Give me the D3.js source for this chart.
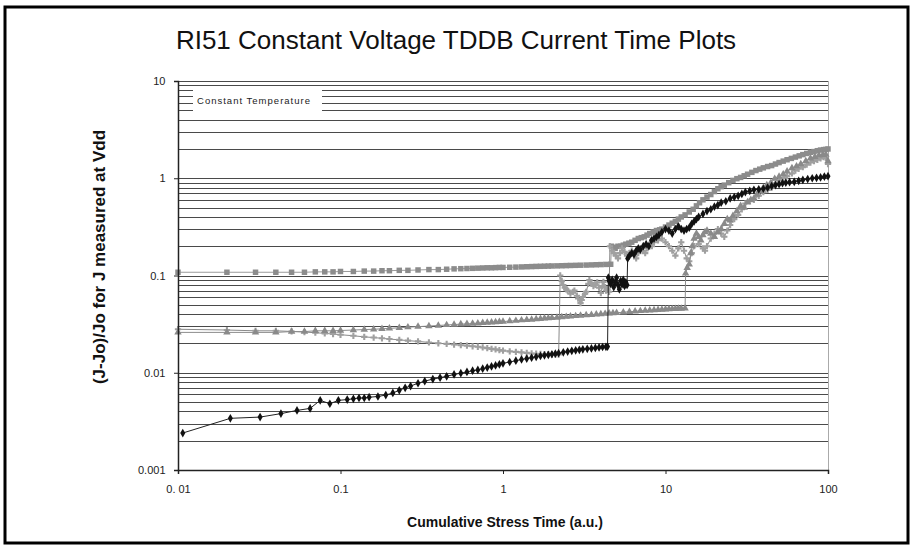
<!DOCTYPE html>
<html>
<head>
<meta charset="utf-8">
<script src="https://cdn.jsdelivr.net/npm/d3@7"></script>
<style>
  body { margin: 0; background: #fff; }
  text { font-family: Arial, "Liberation Sans", sans-serif; }
</style>
</head>
<body>
<script>
// tick labels
const xTicks = [0.01, 0.1, 1, 10, 100];
const xTickLabels = ["0. 01", "0.1", "1", "10", "100"];
const yTicks = [0.001, 0.01, 0.1, 1, 10];
const yTickLabels = ["0.001", "0.01", "0.1", "1", "10"];

// series, [time, (J-Jo)/Jo]
// black diamonds
const seriesA = [[0.0107,0.0024],[0.021,0.0034],[0.032,0.0035],[0.043,0.0038],[0.054,0.0041],[0.065,0.0043],[0.075,0.0052],[0.086,0.0048],[0.097,0.0052],[0.11,0.0053],[0.12,0.0054],[0.13,0.0055],[0.14,0.0055],[0.15,0.0056],[0.17,0.0057],[0.19,0.0059],[0.21,0.0062],[0.23,0.0066],[0.25,0.007],[0.27,0.0073],[0.3,0.0078],[0.33,0.0082],[0.37,0.0086],[0.41,0.0089],[0.45,0.0092],
  [0.5,0.0096],[0.55,0.0099],[0.6,0.0102],[0.65,0.0105],[0.7,0.0107],[0.75,0.011],[0.8,0.0113],[0.85,0.0116],[0.9,0.0119],[0.95,0.0122],[1.0,0.0125],[1.1,0.0129],[1.2,0.0133],[1.3,0.0137],[1.4,0.014],[1.5,0.0143],[1.6,0.0146],[1.7,0.0149],[1.8,0.0151],[1.9,0.0153],[2.0,0.0155],[2.1,0.0157],[2.2,0.0159],[2.35,0.0162],[2.5,0.0165],[2.65,0.0168],[2.8,0.017],[2.95,0.0172],[3.1,0.0174],[3.3,0.0176],[3.5,0.0178],[3.7,0.018],[3.9,0.0182],[4.1,0.0184],[4.3,0.0185],[4.4,0.0186],
  [4.45,0.095],[4.5,0.088],[4.6,0.082],[4.7,0.09],[4.8,0.076],[4.9,0.085],[5.0,0.095],[5.1,0.08],[5.2,0.072],[5.3,0.088],[5.4,0.081],[5.5,0.09],[5.6,0.078],[5.7,0.085],[5.8,0.08],[5.85,0.15],[6.0,0.16],[6.2,0.17],[6.4,0.165],[6.6,0.18],[6.8,0.19],[7.0,0.185],[7.3,0.2],[7.6,0.21],[7.9,0.2],[8.2,0.23],[8.5,0.24],[8.8,0.25],[9.1,0.26],[9.5,0.28],[10,0.3],[10.5,0.29],[11,0.27],[11.5,0.3],[12,0.32],[12.5,0.3],[13,0.29],[13.5,0.3],[14,0.31],[14.5,0.34],[15,0.36],[15.5,0.38],[16,0.4],[17,0.43],[18,0.46],[19,0.48],[20,0.51],[21,0.53],[22,0.56],[23.5,0.58],[25,0.62],[26.5,0.64],[28,0.66],[29.5,0.69],[31,0.72],[33,0.74],[35,0.76],[37.5,0.77],[40,0.78],[42.5,0.8],[45,0.83],[47.5,0.85],[50,0.87],[52.5,0.89],[55,0.9],[58,0.91],[62,0.92],[66,0.94],[70,0.96],[75,0.98],[80,1.0],[85,1.01],[90,1.02],[95,1.04],[100,1.05]];

// gray triangles
const seriesB = [[0.01,0.026],[0.02,0.026],[0.03,0.026],[0.04,0.026],[0.05,0.0265],[0.06,0.0265],[0.07,0.027],[0.08,0.027],[0.09,0.027],[0.1,0.0272],[0.12,0.0275],[0.14,0.0278],[0.16,0.028],[0.18,0.0283],[0.2,0.0286],[0.23,0.029],[0.26,0.0294],[0.3,0.0298],[0.35,0.0302],[0.4,0.0306],[0.45,0.031],[0.5,0.0313],[0.55,0.0316],[0.6,0.0318],[0.65,0.0321],[0.7,0.0323],[0.75,0.0326],[0.8,0.0328],[0.85,0.033],[0.9,0.0332],[0.95,0.0334],
  [1.0,0.0336],[1.1,0.034],[1.2,0.0343],[1.3,0.0347],[1.4,0.035],[1.5,0.0353],[1.6,0.0356],[1.7,0.0359],[1.8,0.0362],[1.9,0.0364],[2.0,0.0367],[2.15,0.037],[2.3,0.0374],[2.45,0.0377],[2.6,0.038],[2.8,0.0384],[3.0,0.0387],[3.25,0.0391],[3.5,0.0395],[3.75,0.0399],[4.0,0.0402],[4.25,0.0405],[4.5,0.0408],[4.75,0.0411],[5,0.0414],[5.5,0.0419],[6,0.0424],[6.5,0.0428],[7,0.0432],[7.5,0.0435],[8,0.0438],[8.5,0.0441],[9,0.0444],[9.5,0.0447],[10,0.0449],[10.5,0.0451],[11,0.0453],[11.5,0.0455],[12,0.0456],[12.5,0.0458],[13.2,0.046],
  [13.3,0.105],[13.6,0.12],[14,0.13],[14.3,0.17],[14.6,0.2],[15,0.24],[15.5,0.27],[16,0.25],[16.5,0.23],[17,0.26],[17.5,0.28],[18,0.29],[19,0.27],[20,0.25],[21,0.28],[22,0.3],[23,0.34],[24,0.38],[25,0.37],[26,0.41],[27.5,0.46],[29,0.52],[30.5,0.5],[32,0.57],[33.5,0.6],[35,0.62],[36.5,0.68],[38,0.74],[40,0.8],[42,0.85],[44.5,0.9],[47,0.99],[50,1.04],[53,1.1],[56,1.18],[60,1.27],[64,1.33],[68,1.4],[73,1.5],[78,1.6],[83,1.66],[88,1.72],[93,1.74],[97,1.75],[100,1.5]];

// light gray crosses
const seriesC = [[0.01,0.028],[0.02,0.0275],[0.03,0.027],[0.04,0.027],[0.05,0.0266],[0.06,0.0262],[0.07,0.0258],[0.08,0.0254],[0.09,0.025],[0.1,0.0246],[0.12,0.024],[0.14,0.0234],[0.16,0.023],[0.18,0.0226],[0.2,0.0222],[0.23,0.0218],[0.26,0.0214],[0.3,0.021],[0.35,0.0205],[0.4,0.0201],[0.45,0.0198],[0.5,0.0195],[0.55,0.0192],[0.6,0.019],[0.65,0.0187],[0.7,0.0185],[0.75,0.0182],[0.8,0.0179],[0.85,0.0176],[0.9,0.0174],[0.95,0.0171],
  [1.0,0.0169],[1.1,0.0166],[1.2,0.0164],[1.3,0.0162],[1.4,0.016],[1.5,0.0158],[1.6,0.0157],[1.7,0.0156],[1.8,0.0155],[1.9,0.0155],[2.0,0.0154],[2.1,0.0154],[2.2,0.0154],
  [2.25,0.1],[2.3,0.088],[2.35,0.08],[2.4,0.075],[2.45,0.072],[2.5,0.07],[2.6,0.065],[2.7,0.068],[2.75,0.07],[2.85,0.062],[2.9,0.058],[3.0,0.052],[3.05,0.056],[3.1,0.06],[3.2,0.065],[3.25,0.068],[3.35,0.082],[3.4,0.09],[3.5,0.084],[3.6,0.078],[3.7,0.08],[3.8,0.085],[3.9,0.075],[4.0,0.066],[4.1,0.078],[4.15,0.086],[4.25,0.076],[4.3,0.07],[4.4,0.072],[4.5,0.068],
  [4.55,0.2],[4.7,0.18],[4.8,0.17],[4.95,0.16],[5.1,0.15],[5.25,0.17],[5.4,0.19],[5.6,0.175],[5.8,0.16],[6.0,0.17],[6.2,0.18],[6.4,0.165],[6.6,0.15],[6.8,0.17],[7.0,0.19],[7.25,0.18],[7.5,0.17],[7.75,0.19],[8,0.21],[8.25,0.2],[8.5,0.22],[9,0.23],[9.5,0.24],[10,0.22],[10.5,0.2],[11,0.18],[11.5,0.16],[12,0.19],[12.5,0.22],[13,0.18],[13.5,0.15],[14,0.14],[14.5,0.17],[15,0.2],[16,0.21],[17,0.19],[17.5,0.18],[18,0.2],[19,0.24],[20,0.27],[21,0.3],[22,0.27],[23,0.25],[24,0.29],[25,0.33],[26.5,0.38],[28,0.42],[29.5,0.48],[31,0.55],[33,0.58],[35,0.6],[37.5,0.66],[40,0.72],[42.5,0.76],[45,0.8],[47.5,0.88],[50,0.95],[53,1.0],[56,1.05],[60,1.12],[63,1.2],[66,1.25],[70,1.3],[74,1.38],[78,1.45],[82,1.5],[86,1.55],[90,1.6],[94,1.65],[97,1.62],[100,1.4]];

// gray squares
const seriesD = [[0.01,0.108],[0.02,0.108],[0.03,0.108],[0.04,0.108],[0.05,0.108],[0.06,0.108],[0.07,0.109],[0.08,0.109],[0.09,0.109],[0.1,0.11],[0.12,0.11],[0.14,0.111],[0.16,0.111],[0.18,0.112],[0.2,0.112],[0.23,0.113],[0.26,0.113],[0.3,0.114],[0.35,0.115],[0.4,0.115],[0.45,0.116],[0.5,0.117],[0.55,0.1175],[0.6,0.118],[0.65,0.1185],[0.7,0.119],[0.75,0.1195],[0.8,0.12],[0.85,0.12],[0.9,0.1205],[0.95,0.121],
  [1.0,0.121],[1.1,0.1215],[1.2,0.122],[1.3,0.1225],[1.4,0.123],[1.5,0.1235],[1.6,0.124],[1.7,0.1243],[1.8,0.1246],[1.9,0.125],[2.0,0.1253],[2.15,0.1256],[2.3,0.126],[2.45,0.1264],[2.6,0.1268],[2.8,0.1272],[3.0,0.1276],[3.25,0.128],[3.5,0.1285],[3.75,0.129],[4.0,0.1295],[4.3,0.13],[4.6,0.1305],
  [4.65,0.2],[4.8,0.195],[4.9,0.19],[5.1,0.2],[5.3,0.2],[5.5,0.205],[5.7,0.21],[5.95,0.215],[6.2,0.22],[6.5,0.23],[6.8,0.24],[7.1,0.245],[7.4,0.25],[7.7,0.26],[8,0.27],[8.4,0.28],[8.8,0.29],[9.2,0.295],[9.5,0.3],[10,0.315],[10.5,0.33],[11,0.345],[11.5,0.36],[12,0.38],[12.5,0.4],[13.2,0.42],[14,0.45],[14.8,0.48],[15.5,0.52],[16.2,0.56],[17,0.6],[18,0.64],[19,0.68],[20,0.73],[21,0.78],[22,0.82],[23,0.85],[24.5,0.9],[26,0.95],[27.5,0.99],[29,1.02],[30.5,1.06],[32,1.1],[34,1.15],[36,1.2],[38,1.24],[40,1.28],[42.5,1.32],[45,1.35],[47.5,1.4],[50,1.45],[53,1.5],[56,1.55],[59.5,1.6],[63,1.65],[66.5,1.7],[70,1.75],[74,1.8],[78,1.85],[82,1.88],[86,1.92],[90,1.95],[94,1.97],[97,1.98],[100,2.0]];

const W = 913, H = 548;
const plotLeft = 178, plotRight = 828, plotTop = 81, plotBottom = 470;

const svg = d3.select('body').append('svg')
  .attr('width', W)
  .attr('height', H);

svg.append('rect')
  .attr('x', 5).attr('y', 7)
  .attr('width', W - 10).attr('height', H - 12)
  .attr('fill', '#fff')
  .attr('stroke', '#000')
  .attr('stroke-width', 3);

const x = d3.scaleLog().domain([0.01, 100]).range([plotLeft, plotRight]);
const y = d3.scaleLog().domain([0.001, 10]).range([plotBottom, plotTop]);

// horizontal grid at every minor log tick
svg.append('g')
  .selectAll('line')
  .data(y.ticks())
  .join('line')
  .attr('x1', plotLeft).attr('x2', plotRight)
  .attr('y1', d => Math.round(y(d)) + 0.5)
  .attr('y2', d => Math.round(y(d)) + 0.5)
  .attr('stroke', '#4a4a4a')
  .attr('stroke-width', 1);

svg.append('line')
  .attr('x1', plotRight + 0.5).attr('x2', plotRight + 0.5)
  .attr('y1', plotTop).attr('y2', plotBottom)
  .attr('stroke', '#aaa');

const line = d3.line()
  .x(d => x(d[0]))
  .y(d => y(d[1]));

const series = [
  { data: seriesD, stroke: '#9a9a9a', fill: '#8c8c8c', symbol: d3.symbolSquare, size: 30 },
  { data: seriesC, stroke: '#8a8a8a', fill: '#a0a0a0', symbol: d3.symbolCross, size: 22 },
  { data: seriesB, stroke: '#8c8c8c', fill: '#8a8a8a', symbol: d3.symbolTriangle, size: 24 },
  { data: seriesA, stroke: '#222', fill: '#111', symbol: d3.symbolDiamond, size: 22 }
];

series.forEach(s => {
  const g = svg.append('g');
  g.append('path')
    .attr('d', line(s.data))
    .attr('fill', 'none')
    .attr('stroke', s.stroke)
    .attr('stroke-width', 1);
  g.selectAll('path.m')
    .data(s.data)
    .join('path')
    .attr('class', 'm')
    .attr('transform', d => `translate(${x(d[0])},${y(d[1])})`)
    .attr('d', d3.symbol().type(s.symbol).size(s.size))
    .attr('fill', s.fill);
});

// legend
svg.append('rect')
  .attr('x', 193).attr('y', 88)
  .attr('width', 129).attr('height', 25)
  .attr('fill', '#fff');
svg.append('text')
  .attr('x', 197).attr('y', 104)
  .attr('font-size', 9.5)
  .attr('textLength', 113)
  .attr('lengthAdjust', 'spacing')
  .attr('fill', '#222')
  .text('Constant Temperature');

// axes
const xAxis = svg.append('g')
  .attr('transform', `translate(0,${plotBottom})`)
  .call(d3.axisBottom(x).tickValues(xTicks).tickSize(4).tickFormat((d, i) => xTickLabels[i]));
const yAxis = svg.append('g')
  .attr('transform', `translate(${plotLeft},0)`)
  .call(d3.axisLeft(y).tickValues(yTicks).tickSize(4).tickFormat((d, i) => yTickLabels[i]));

[xAxis, yAxis].forEach(a => {
  a.select('.domain').attr('stroke', '#222').attr('stroke-width', 1.5);
  a.selectAll('.tick line').attr('stroke', '#222');
  a.selectAll('.tick text').attr('font-size', 11).attr('fill', '#222')
    .style('font-family', 'Arial, "Liberation Sans", sans-serif');
});
xAxis.selectAll('.tick text').attr('dy', '1.45em');
yAxis.selectAll('.tick text').attr('dx', '-0.5em');

// titles
svg.append('text')
  .attr('x', 456).attr('y', 49)
  .attr('text-anchor', 'middle')
  .attr('font-size', 26)
  .attr('fill', '#111')
  .text('RI51 Constant Voltage TDDB Current Time Plots');

svg.append('text')
  .attr('x', 505).attr('y', 527)
  .attr('text-anchor', 'middle')
  .attr('font-size', 14)
  .attr('font-weight', 'bold')
  .attr('fill', '#111')
  .text('Cumulative Stress Time (a.u.)');

svg.append('text')
  .attr('transform', 'translate(105,257) rotate(-90)')
  .attr('text-anchor', 'middle')
  .attr('font-size', 17)
  .attr('font-weight', 'bold')
  .attr('fill', '#111')
  .text('(J-Jo)/Jo for J measured at Vdd');
</script>
</body>
</html>
